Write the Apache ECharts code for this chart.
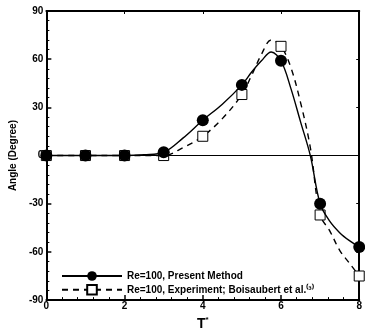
<!DOCTYPE html>
<html>
<head>
<meta charset="utf-8">
<script src="https://cdn.jsdelivr.net/npm/echarts@6/dist/echarts.min.js"></script>
<style>
  html, body { margin: 0; padding: 0; background: #fff; }
  #chart { width: 365px; height: 336px; }
</style>
</head>
<body>
<div id="chart"></div>
<script>
// marker values at integer T*
var tMarks = [0, 1, 2, 3, 4, 5, 6, 7, 8];
var presentMarks = [0, 0, 0, 2, 22, 44, 59, -30, -57];
var experimentMarks = [0, 0, 0, 0, 12, 38, 68, -37, -75];

// extra points
var presentCurveT = [2.5, 3.5, 4.5, 5.25, 5.5, 5.75, 6.25, 6.5, 6.75, 7.25, 7.5, 7.75];
var presentCurve = [0.5, 11, 32, 52, 59, 64.5, 42, 21, 0, -41, -48, -53];
var experimentCurveT = [3.5, 4.5, 5.25, 5.5, 5.75, 6.25, 6.5, 6.75, 7.25, 7.5, 7.75];
var experimentCurve = [5, 23, 50, 63, 72, 55, 33, 5, -47, -59, -67];

var yTicks = [-90, -60, -30, 0, 30, 60, 90];
var xTicks = [0, 2, 4, 6, 8];

var names = ['Re=100, Present Method', 'Re=100, Experiment; Boisaubert et al.\u207D\u00B3\u207E'];

function merge(tm, vm, tc, vc) {
    var pts = [];
    for (var i = 0; i < tm.length; i++) pts.push([tm[i], vm[i]]);
    for (var j = 0; j < tc.length; j++) pts.push([tc[j], vc[j]]);
    pts.sort(function (a, b) { return a[0] - b[0]; });
    return pts;
}

var myChart = echarts.init(document.getElementById('chart'));
var font = 'Liberation Sans, Arial, sans-serif';

function markSize(big) {
    return function (val) {
        return Number.isInteger(val[0]) ? big : 0;
    };
}

var axisCommon = {
    axisLine: { show: true, onZero: false, lineStyle: { color: '#000', width: 2 } },
    axisTick: { show: true, inside: true, length: 5, lineStyle: { color: '#000', width: 1.5 } },
    minorTick: { show: true, splitNumber: 5, length: 3, lineStyle: { color: '#000', width: 1 } },
    splitLine: { show: false }
};

option = {
    animation: false,
    backgroundColor: '#fff',
    grid: { left: 42, right: 1, top: 11, bottom: 24 },
    legend: {
        orient: 'vertical',
        left: 56,
        top: 266,
        itemGap: 3,
        itemWidth: 60,
        itemHeight: 12,
        data: names,
        textStyle: { fontFamily: font, fontWeight: 'bold', fontSize: 10, color: '#000' }
    },
    xAxis: [{
        type: 'value',
        min: 0, max: 8, interval: 2,
        axisLine: axisCommon.axisLine,
        axisTick: axisCommon.axisTick,
        minorTick: axisCommon.minorTick,
        splitLine: axisCommon.splitLine,
        axisLabel: {
            margin: 1,
            fontFamily: font, fontWeight: 'bold', fontSize: 10, color: '#000',
            customValues: xTicks
        },
        name: '{t|T}{s|*}',
        nameLocation: 'middle',
        nameGap: 13,
        nameTextStyle: {
            rich: {
                t: { fontFamily: font, fontWeight: 'bold', fontSize: 14, color: '#000' },
                s: { fontFamily: font, fontWeight: 'bold', fontSize: 8, color: '#000', padding: [0, 0, 8, 0] }
            }
        }
    }, {
        type: 'value', position: 'top',
        min: 0, max: 8, interval: 2,
        axisLine: axisCommon.axisLine,
        axisTick: { show: true, inside: true, length: 3, lineStyle: { color: '#000', width: 1 } },
        axisLabel: { show: false },
        splitLine: { show: false }
    }],
    yAxis: [{
        type: 'value',
        min: -90, max: 90, interval: 30,
        axisLine: axisCommon.axisLine,
        axisTick: axisCommon.axisTick,
        minorTick: axisCommon.minorTick,
        splitLine: axisCommon.splitLine,
        axisLabel: {
            margin: 3,
            fontFamily: font, fontWeight: 'bold', fontSize: 10, color: '#000',
            customValues: yTicks
        },
        name: 'Angle (Degree)',
        nameLocation: 'middle',
        nameGap: 27,
        nameTextStyle: { fontFamily: font, fontWeight: 'bold', fontSize: 10, color: '#000' }
    }, {
        type: 'value', position: 'right',
        min: -90, max: 90, interval: 30,
        axisLine: axisCommon.axisLine,
        axisTick: { show: true, inside: true, length: 3, lineStyle: { color: '#000', width: 1 } },
        axisLabel: { show: false },
        splitLine: { show: false }
    }],
    series: [
        {
            name: names[0],
            type: 'line',
            smooth: 0.35,
            data: merge(tMarks, presentMarks, presentCurveT, presentCurve),
            symbol: 'circle',
            symbolSize: markSize(12),
            showAllSymbol: true,
            z: 3,
            itemStyle: { color: '#000' },
            lineStyle: { color: '#000', width: 1.4, type: 'solid' },
            markLine: {
                silent: true,
                symbol: 'none',
                label: { show: false },
                lineStyle: { color: '#000', width: 1, type: 'solid' },
                data: [{ yAxis: 0 }]
            }
        },
        {
            name: names[1],
            type: 'line',
            smooth: 0.35,
            data: merge(tMarks, experimentMarks, experimentCurveT, experimentCurve),
            symbol: 'rect',
            symbolSize: markSize(10),
            showAllSymbol: true,
            z: 2,
            itemStyle: { color: '#fff', borderColor: '#000', borderWidth: 1 },
            lineStyle: { color: '#000', width: 1.4, type: [6, 5] }
        }
    ]
};
myChart.setOption(option);
</script>
</body>
</html>
